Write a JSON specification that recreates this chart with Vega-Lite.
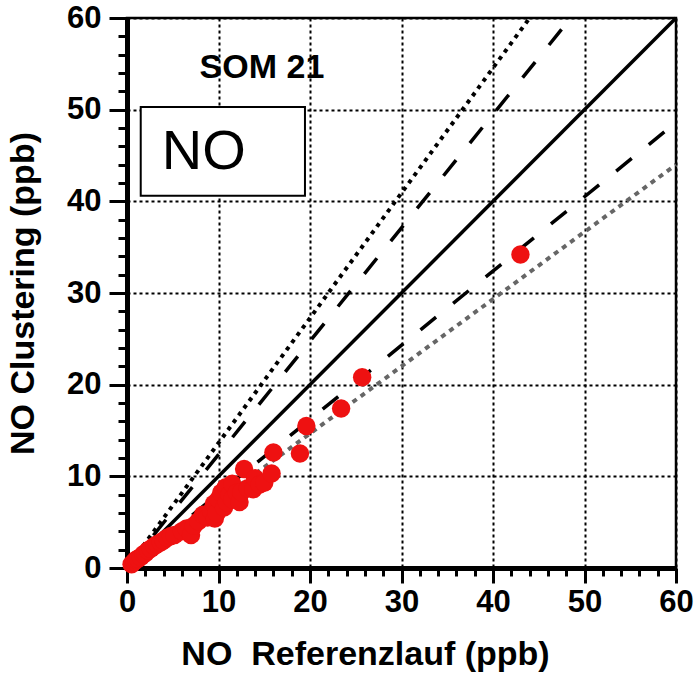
{
  "$schema": "https://vega.github.io/schema/vega-lite/v6.json",
  "width": 549,
  "height": 550,
  "autosize": "none",
  "padding": {"left": 127, "top": 18, "right": 18, "bottom": 121},
  "background": "white",
  "config": {"view": {"stroke": "black", "strokeWidth": 2.5}, "font": "Liberation Sans"},
  "datasets": {
    "pts": [
      {"x": 0.5, "y": 0.4}, {"x": 0.8, "y": 0.7}, {"x": 1.0, "y": 0.9}, {"x": 1.2, "y": 1.0},
      {"x": 1.5, "y": 1.2}, {"x": 1.8, "y": 1.5}, {"x": 2.0, "y": 1.6}, {"x": 2.3, "y": 1.9},
      {"x": 2.6, "y": 2.1}, {"x": 3.0, "y": 2.4}, {"x": 3.3, "y": 2.6}, {"x": 3.7, "y": 2.8},
      {"x": 4.0, "y": 3.0}, {"x": 4.4, "y": 3.3}, {"x": 4.8, "y": 3.5}, {"x": 5.2, "y": 3.6},
      {"x": 6.0, "y": 4.0}, {"x": 6.5, "y": 4.3}, {"x": 7.0, "y": 3.6}, {"x": 7.3, "y": 4.6},
      {"x": 7.8, "y": 5.1}, {"x": 8.3, "y": 5.8}, {"x": 8.8, "y": 5.5}, {"x": 9.2, "y": 6.2},
      {"x": 9.5, "y": 7.0}, {"x": 9.6, "y": 5.4}, {"x": 9.8, "y": 6.0}, {"x": 10.0, "y": 7.5},
      {"x": 10.3, "y": 8.2}, {"x": 10.6, "y": 6.6}, {"x": 10.8, "y": 8.8}, {"x": 10.9, "y": 7.2},
      {"x": 11.2, "y": 8.0}, {"x": 11.5, "y": 7.5}, {"x": 11.5, "y": 9.2}, {"x": 12.0, "y": 8.2},
      {"x": 12.3, "y": 7.2}, {"x": 12.5, "y": 8.3}, {"x": 12.8, "y": 10.8}, {"x": 13.2, "y": 8.7},
      {"x": 13.8, "y": 8.6}, {"x": 14.0, "y": 9.8}, {"x": 14.5, "y": 9.1}, {"x": 15.0, "y": 9.3},
      {"x": 15.8, "y": 10.3}, {"x": 16.0, "y": 12.6}, {"x": 18.9, "y": 12.5}, {"x": 19.6, "y": 15.5},
      {"x": 23.4, "y": 17.4}, {"x": 25.7, "y": 20.8}, {"x": 43.0, "y": 34.2}
    ],
    "lines": [
      {"series": "1:1", "x": 0, "y": 0}, {"series": "1:1", "x": 60, "y": 60},
      {"series": "upper dashed", "x": 0, "y": 0}, {"series": "upper dashed", "x": 48.5, "y": 60},
      {"series": "lower dashed", "x": 0, "y": 0}, {"series": "lower dashed", "x": 60, "y": 48.6},
      {"series": "upper dotted", "x": 0, "y": 0}, {"series": "upper dotted", "x": 44, "y": 60},
      {"series": "lower dotted", "x": 0, "y": 0}, {"series": "lower dotted", "x": 60, "y": 44}
    ],
    "box": [{"label": "NO", "x1": 1.5, "x2": 19.45, "y1": 40.6, "y2": 50.3, "tx": 8.4, "ty": 45.4}],
    "title": [{"label": "SOM 21", "x": 14.75, "y": 54.5}]
  },
  "layer": [
    {
      "data": {"name": "lines"},
      "transform": [{"filter": "datum.series === '1:1'"}],
      "mark": {"type": "line", "color": "black", "strokeWidth": 3.5},
      "encoding": {
        "x": {"field": "x", "type": "quantitative", "scale": {"domain": [0, 60], "nice": false},
          "axis": {"orient": "bottom", "values": [0, 10, 20, 30, 40, 50, 60], "tickSize": 15, "tickWidth": 3, "tickColor": "black",
            "domainWidth": 5, "domainColor": "black", "labelFontWeight": "bold", "labelFontSize": 31, "labelColor": "black",
            "labelPadding": 4, "labelFlush": false, "labelOverlap": false, "grid": true, "gridDash": [3, 3], "gridColor": "black", "gridWidth": 2, "gridOpacity": 1,
            "title": "NO\u00a0 Referenzlauf (ppb)", "titleFontSize": 34, "titleFontWeight": "bold", "titlePadding": 20, "titleColor": "black",
            "titleX": 238, "titleAlign": "center", "titleAnchor": null}},
        "y": {"field": "y", "type": "quantitative", "scale": {"domain": [0, 60], "nice": false},
          "axis": {"orient": "left", "values": [0, 10, 20, 30, 40, 50, 60], "tickSize": 18, "tickWidth": 3, "tickColor": "black",
            "domainWidth": 5, "domainColor": "black", "labelFontWeight": "bold", "labelFontSize": 31, "labelColor": "black",
            "labelPadding": 8, "labelFlush": false, "labelOverlap": false, "grid": true, "gridDash": [3, 3], "gridColor": "black", "gridWidth": 2, "gridOpacity": 1,
            "title": "NO Clustering (ppb)", "titleFontSize": 34, "titleFontWeight": "bold", "titlePadding": 26, "titleColor": "black"}}
      }
    },
    {
      "data": {"name": "lines"},
      "transform": [{"filter": "datum.series === 'upper dashed' || datum.series === 'lower dashed'"}],
      "mark": {"type": "line", "color": "black", "strokeWidth": 3.5, "strokeDash": [20, 22]},
      "encoding": {
        "detail": {"field": "series"},
        "x": {"field": "x", "type": "quantitative",
          "axis": {"orient": "bottom", "values": [2, 4, 6, 8, 12, 14, 16, 18, 22, 24, 26, 28, 32, 34, 36, 38, 42, 44, 46, 48, 52, 54, 56, 58],
            "tickSize": 8, "tickWidth": 3, "tickColor": "black", "labels": false, "domain": false, "grid": false, "title": null}},
        "y": {"field": "y", "type": "quantitative",
          "axis": {"orient": "left", "values": [2, 4, 6, 8, 12, 14, 16, 18, 22, 24, 26, 28, 32, 34, 36, 38, 42, 44, 46, 48, 52, 54, 56, 58],
            "tickSize": 9, "tickWidth": 3, "tickColor": "black", "labels": false, "domain": false, "grid": false, "title": null}}
      }
    },
    {
      "data": {"name": "lines"},
      "transform": [{"filter": "datum.series === 'upper dotted'"}],
      "mark": {"type": "line", "color": "black", "strokeWidth": 4, "strokeDash": [4, 5]},
      "encoding": {
        "x": {"field": "x", "type": "quantitative", "axis": null},
        "y": {"field": "y", "type": "quantitative", "axis": null}
      }
    },
    {
      "data": {"name": "lines"},
      "transform": [{"filter": "datum.series === 'lower dotted'"}],
      "mark": {"type": "line", "color": "#666666", "strokeWidth": 4, "strokeDash": [5, 5]},
      "encoding": {
        "x": {"field": "x", "type": "quantitative", "axis": null},
        "y": {"field": "y", "type": "quantitative", "axis": null}
      }
    },
    {
      "data": {"name": "box"},
      "mark": {"type": "rect", "fill": "white", "stroke": "black", "strokeWidth": 2},
      "encoding": {
        "x": {"field": "x1", "type": "quantitative", "axis": null},
        "x2": {"field": "x2"},
        "y": {"field": "y1", "type": "quantitative", "axis": null},
        "y2": {"field": "y2"}
      }
    },
    {
      "data": {"name": "box"},
      "mark": {"type": "text", "fontSize": 56, "font": "Liberation Sans", "color": "black", "align": "center", "baseline": "middle"},
      "encoding": {
        "x": {"field": "tx", "type": "quantitative", "axis": null},
        "y": {"field": "ty", "type": "quantitative", "axis": null},
        "text": {"field": "label"}
      }
    },
    {
      "data": {"name": "title"},
      "mark": {"type": "text", "fontSize": 34, "fontWeight": "bold", "font": "Liberation Sans", "color": "black", "align": "center", "baseline": "middle"},
      "encoding": {
        "x": {"field": "x", "type": "quantitative", "axis": null},
        "y": {"field": "y", "type": "quantitative", "axis": null},
        "text": {"field": "label"}
      }
    },
    {
      "data": {"name": "pts"},
      "mark": {"type": "circle", "color": "#ee1111", "opacity": 1, "size": 340},
      "encoding": {
        "x": {"field": "x", "type": "quantitative", "axis": null},
        "y": {"field": "y", "type": "quantitative", "axis": null}
      }
    }
  ],
  "resolve": {"axis": {"x": "independent", "y": "independent"}}
}
